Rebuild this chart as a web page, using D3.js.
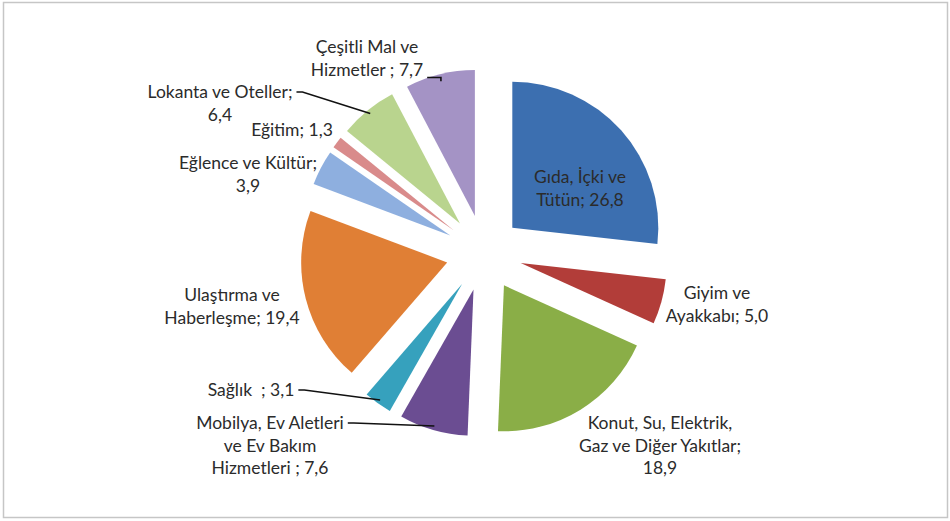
<!DOCTYPE html>
<html><head><meta charset="utf-8">
<script src="https://cdn.jsdelivr.net/npm/d3@7"></script>
<style>
html,body{margin:0;padding:0;background:#fff;}
svg text{font-family:Lato,"Open Sans",sans-serif;font-size:17.5px;fill:#2b2b2b;white-space:pre;}
</style></head>
<body><svg id="chart" width="950" height="521"></svg>
<script>
// ---- data ----
const categories = ["Gıda, İçki ve Tütün","Giyim ve Ayakkabı","Konut, Su, Elektrik, Gaz ve Diğer Yakıtlar","Mobilya, Ev Aletleri ve Ev Bakım Hizmetleri","Sağlık","Ulaştırma ve Haberleşme","Eğlence ve Kültür","Eğitim","Lokanta ve Oteller","Çeşitli Mal ve Hizmetler"];
const values = [26.8, 5.0, 18.9, 7.6, 3.1, 19.4, 3.9, 1.3, 6.4, 7.7];
const labelLines = [
  ["Gıda, İçki ve","Tütün; 26,8"],
  ["Giyim ve","Ayakkabı; 5,0"],
  ["Konut, Su, Elektrik,","Gaz ve Diğer Yakıtlar;","18,9"],
  ["Mobilya, Ev Aletleri","ve Ev Bakım","Hizmetleri ; 7,6"],
  ["Sağlık  ; 3,1"],
  ["Ulaştırma ve","Haberleşme; 19,4"],
  ["Eğlence ve Kültür;","3,9"],
  ["Eğitim; 1,3"],
  ["Lokanta ve Oteller;","6,4"],
  ["Çeşitli Mal ve","Hizmetler ; 7,7"]
];
const colors = ["#3c6fb0","#b23d39","#8aae47","#6b4d92","#36a1bd","#e07f35","#8eafdf","#d98b8b","#b9d48e","#a493c5"];

// ---- layout ----
const cx = 484, cy = 253, R = 146, explode = 38;
const labelPos = [[580,177],[717,293],[660,423],[270,423],[251,390],[232,295],[248,163],[292,130],[220,92],[367,47]];
const lineH = 22.5;
const leaders = {3:0,4:0,8:0,9:1}; // which line the leader starts from

const svg = d3.select("#chart");
svg.append("rect").attr("x",3.5).attr("y",2.5).attr("width",944).attr("height",515)
  .attr("fill","#fff").attr("stroke","#c6c6c6").attr("stroke-width",1.5);

const pie = d3.pie().sort(null).value(d=>d)(values);
const arc = d3.arc().innerRadius(0).outerRadius(R);
const offs = d => { const a=(d.startAngle+d.endAngle)/2; return [explode*Math.sin(a), -explode*Math.cos(a)]; };

const g = svg.append("g").attr("transform",`translate(${cx},${cy})`);
g.selectAll("path.slice").data(pie).join("path").attr("class","slice")
  .attr("d",arc).attr("fill",(d,i)=>colors[i])
  .attr("transform",d=>{const o=offs(d);return `translate(${o[0]},${o[1]})`;});

const lab = svg.append("g");
labelLines.forEach((lines,i)=>{
  const [x,y]=labelPos[i];
  const t = lab.append("text").attr("text-anchor","middle");
  lines.forEach((s,k)=>t.append("tspan").attr("x",x).attr("y",y+k*lineH).attr("dy","0.35em").text(s));
  if(i in leaders){
    const li = leaders[i];
    const node = t.selectAll("tspan").nodes()[li];
    const bb = node.getBBox();
    const d = pie[i], a=(d.startAngle+d.endAngle)/2, o=offs(d);
    const ex = cx+o[0]+(R-4)*Math.sin(a), ey = cy+o[1]-(R-4)*Math.cos(a);
    const sx = bb.x+bb.width+4, sy = y+li*lineH;
    let pts;
    if(i===9) pts=[[sx,sy+8],[ex,sy+8],[ex,ey+3]];
    else pts=[[sx,sy],[sx+6,sy],[ex,ey]];
    lab.append("path").attr("d",d3.line()(pts)).attr("fill","none").attr("stroke","#111").attr("stroke-width",1.6);
  }
});
</script></body></html>
